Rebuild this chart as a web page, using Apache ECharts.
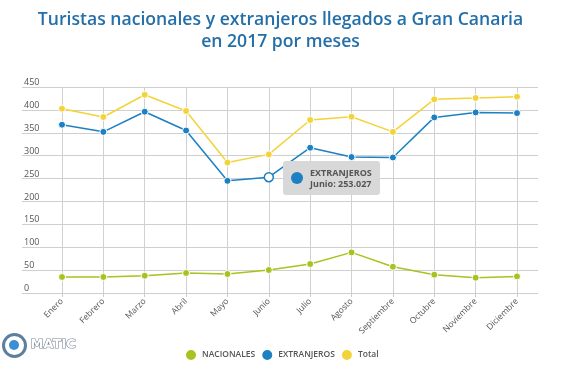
<!DOCTYPE html>
<html><head><meta charset="utf-8">
<script src="https://cdn.jsdelivr.net/npm/echarts@6/dist/echarts.min.js"></script>
<style>html,body{margin:0;padding:0;background:#fff}#c{width:561px;height:378px}</style>
</head><body><div id="c"></div>
<script>
const months = ['Enero','Febrero','Marzo','Abril','Mayo','Junio','Julio','Agosto','Septiembre','Octubre','Noviembre','Diciembre'];
const nacionales = [35, 35, 37.8, 43.7, 41.5, 50.2, 63.3, 88.7, 57.4, 40, 33.4, 36.3];
const extranjeros = [367.6, 352, 396, 355, 245, 253.027, 317.4, 297, 296, 383.6, 394.5, 393];
const total = [402.6, 384.4, 433, 397.5, 285, 302.8, 378, 385, 352, 423, 426, 428.8];
const yTicks = [0, 450, 50];
const titleLines = ['Turistas nacionales y extranjeros llegados a Gran Canaria', 'en 2017 por meses'];
const tipIndex = 5;

const C_NAC = '#a8c21f', C_EXT = '#1c80c3', C_TOT = '#f2d43a';
const chart = echarts.init(document.getElementById('c'), null, {renderer:'canvas'});
const gridTop = 87, gridBottom = 85;
const pointStyle = c => ({color: c, borderColor: '#fff', borderWidth: 1});
chart.setOption({
  animation: false,
  title: {text: titleLines.join('\n'), left: 'center', top: 4,
    textStyle: {fontFamily: 'Open Sans', fontSize: 17.6, fontWeight: 600, color: '#256fa8', lineHeight: 22}},
  legend: {bottom: 11, left: 179, icon: 'circle', itemWidth: 12, itemHeight: 12, itemGap: 5,
    textStyle: {fontFamily: 'Open Sans', fontSize: 8.5, fontWeight: 600, color: '#555'},
    data: ['NACIONALES', 'EXTRANJEROS', 'Total']},
  tooltip: {trigger: 'item', alwaysShowContent: true, showDelay: 0, transitionDuration: 0,
    backgroundColor: '#d8d8d8', borderWidth: 0, padding: [6, 8, 6, 8],
    extraCssText: 'border-radius:3px;box-shadow:none;',
    position: (p) => [p[0] + 14, p[1] - 16],
    formatter: (p) => '<div style="display:flex;align-items:center;font-family:Open Sans;font-size:9px;font-weight:700;color:#555;line-height:11px">'
      + '<span style="display:inline-block;width:12px;height:12px;border-radius:6px;background:' + C_EXT + ';margin-right:7px"></span>'
      + '<div>' + p.seriesName + '<br>' + p.name + ': ' + p.value.toFixed(3) + '</div></div>'},
  grid: [
    {left: 62, right: 44, top: gridTop, bottom: gridBottom},
    {left: 22, right: 23, top: gridTop, bottom: gridBottom}
  ],
  xAxis: [
    {type: 'category', gridIndex: 0, data: months, boundaryGap: false,
      axisLine: {show: false},
      axisTick: {show: true, length: 4, lineStyle: {color: '#ccc'}},
      splitLine: {show: true, lineStyle: {color: '#d0d0d0'}},
      axisLabel: {rotate: 45, fontFamily: 'Open Sans', fontSize: 8.5, color: '#555', margin: 7}},
    {type: 'value', gridIndex: 1, show: false}
  ],
  yAxis: [
    {type: 'value', gridIndex: 0, min: yTicks[0], max: yTicks[1], interval: yTicks[2], show: false},
    {type: 'value', gridIndex: 1, min: yTicks[0], max: yTicks[1], interval: yTicks[2],
      axisLine: {show: false}, axisTick: {show: false},
      splitLine: {lineStyle: {color: '#cfcfcf'}},
      axisLabel: {inside: true, margin: 2, verticalAlign: 'bottom', fontFamily: 'Open Sans', fontSize: 9, color: '#555'}}
  ],
  series: [
    {name: 'NACIONALES', type: 'line', data: nacionales, xAxisIndex: 0, yAxisIndex: 0,
      symbol: 'circle', symbolSize: 7, color: C_NAC, lineStyle: {width: 1.5, color: C_NAC}, itemStyle: pointStyle(C_NAC)},
    {name: 'EXTRANJEROS', type: 'line', xAxisIndex: 0, yAxisIndex: 0,
      data: extranjeros.map((v, i) => i === tipIndex ? {value: v, symbolSize: 9, itemStyle: {color: '#fff', borderColor: C_EXT, borderWidth: 1.5}} : v),
      symbol: 'circle', symbolSize: 7, color: C_EXT, lineStyle: {width: 1.5, color: C_EXT}, itemStyle: pointStyle(C_EXT)},
    {name: 'Total', type: 'line', data: total, xAxisIndex: 0, yAxisIndex: 0, z: 1,
      symbol: 'circle', symbolSize: 7, color: C_TOT, lineStyle: {width: 1.5, color: C_TOT}, itemStyle: pointStyle(C_TOT)}
  ],
  graphic: [
    {type: 'circle', left: 2, top: 333, shape: {r: 11}, style: {fill: '#fff', stroke: '#5d7f9f', lineWidth: 3}},
    {type: 'circle', left: 9, top: 340, shape: {r: 5}, style: {fill: '#3b8fd3'}},
    {type: 'text', left: 30, top: 338, style: {text: 'MATIC', fontFamily: 'DejaVu Sans', fontWeight: 'bold', fontSize: 13, fill: '#fff', stroke: '#7b8a98', lineWidth: 1.2}}
  ]
});
chart.dispatchAction({type: 'showTip', seriesIndex: 1, dataIndex: tipIndex});
</script></body></html>
